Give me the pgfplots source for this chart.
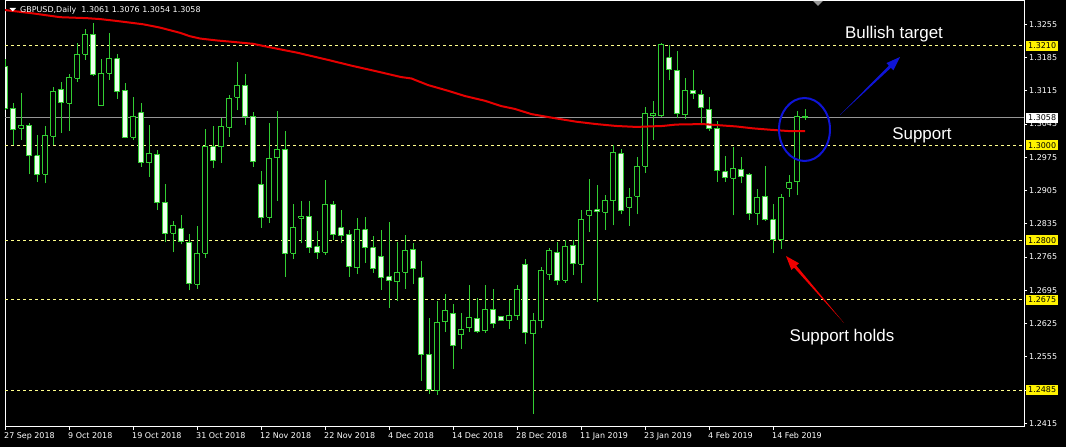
\documentclass[border=0pt]{standalone}
\usepackage{fontspec}
\usepackage{pgfplots}
\pgfplotsset{compat=1.18}
\usetikzlibrary{arrows.meta}
\newfontfamily\lab{DejaVu Sans}
\newfontfamily\ann{Liberation Sans}
\definecolor{cg}{RGB}{50,205,50}
\definecolor{bearfill}{RGB}{235,255,235}
\definecolor{lvl}{RGB}{255,255,140}
\definecolor{ma}{RGB}{230,0,0}
\definecolor{pl}{RGB}{150,150,150}
\definecolor{ab}{RGB}{15,20,215}
\definecolor{ar}{RGB}{240,0,0}
% candle: index, open, high, low, close
\newcommand{\cdl}[5]{%
 \ifdim #5pt<#2pt \def\cF{bearfill}\else\def\cF{black}\fi
 \pgfmathsetmacro\xa{#1-0.3}\pgfmathsetmacro\xb{#1+0.3}%
 \edef\cTmp{\noexpand\addplot[cg, line width=1bp, mark=none] coordinates {(#1,#4)(#1,#3)};
 \noexpand\addplot[draw=cg, fill=\cF, line width=1bp, mark=none, line join=miter] coordinates {(\xa,#2)(\xb,#2)(\xb,#5)(\xa,#5)(\xa,#2)};}%
 \cTmp}
\begin{document}
\begin{tikzpicture}
\fill[black] (0,0) rectangle (1066bp,447bp);
\useasboundingbox (0,0) rectangle (1066bp,447bp);
\begin{axis}[
  at={(5bp,20bp)}, anchor=south west,
  scale only axis, width=1019bp, height=426bp,
  xmin=0, xmax=127.375, ymin=1.24073, ymax=1.33041,
  axis background/.style={fill=black},
  axis line style={white, line width=1bp},
  xtick={0,8,16,24,32,40,48,56,64,72,80,88,96},
  xticklabels={27 Sep 2018,9 Oct 2018,19 Oct 2018,31 Oct 2018,12 Nov 2018,22 Nov 2018,4 Dec 2018,14 Dec 2018,28 Dec 2018,11 Jan 2019,23 Jan 2019,4 Feb 2019,14 Feb 2019},
  ytick={1.2415,1.2485,1.2555,1.2625,1.2695,1.2765,1.2835,1.2905,1.2975,1.3045,1.3115,1.3185,1.3255},
  yticklabels={1.2415,1.2485,1.2555,1.2625,1.2695,1.2765,1.2835,1.2905,1.2975,1.3045,1.3115,1.3185,1.3255},
  xtick pos=bottom, ytick pos=right, yticklabel pos=right,
  tick align=outside, major tick length=3bp,
  tick style={white, line width=1bp},
  tick label style={font=\lab\fontsize{8}{9}\selectfont, text=white, inner sep=0pt},
  xticklabel style={anchor=north west, xshift=-1bp, yshift=-2bp},
  yticklabel style={anchor=west, xshift=2bp},
]
% levels
\addplot[lvl, line width=1bp, dash pattern=on 3bp off 3bp] coordinates {(0,1.3210)(127.375,1.3210)};
\addplot[lvl, line width=1bp, dash pattern=on 3bp off 3bp] coordinates {(0,1.3000)(127.375,1.3000)};
\addplot[lvl, line width=1bp, dash pattern=on 3bp off 3bp] coordinates {(0,1.2800)(127.375,1.2800)};
\addplot[lvl, line width=1bp, dash pattern=on 3bp off 3bp] coordinates {(0,1.2675)(127.375,1.2675)};
\addplot[lvl, line width=1bp, dash pattern=on 3bp off 3bp] coordinates {(0,1.2485)(127.375,1.2485)};
\addplot[pl, line width=1bp] coordinates {(0,1.3058)(127.375,1.3058)};
% candles: index, open, high, low, close
\cdl{0}{1.3166}{1.3181}{1.3075}{1.3077}
\cdl{1}{1.3078}{1.3089}{1.3000}{1.3034}
\cdl{2}{1.3036}{1.3110}{1.3011}{1.3042}
\cdl{3}{1.3042}{1.3048}{1.2939}{1.2978}
\cdl{4}{1.2978}{1.3022}{1.2924}{1.2939}
\cdl{5}{1.2939}{1.3041}{1.2920}{1.3021}
\cdl{6}{1.3019}{1.3122}{1.3000}{1.3114}
\cdl{7}{1.3118}{1.3134}{1.3027}{1.3091}
\cdl{8}{1.3089}{1.3150}{1.3031}{1.3143}
\cdl{9}{1.3141}{1.3215}{1.3134}{1.3192}
\cdl{10}{1.3192}{1.3245}{1.3180}{1.3234}
\cdl{11}{1.3234}{1.3257}{1.3147}{1.3150}
\cdl{12}{1.3084}{1.3181}{1.3083}{1.3152}
\cdl{13}{1.3152}{1.3236}{1.3138}{1.3183}
\cdl{14}{1.3183}{1.3193}{1.3098}{1.3114}
\cdl{15}{1.3116}{1.3131}{1.3015}{1.3017}
\cdl{16}{1.3017}{1.3103}{1.3011}{1.3061}
\cdl{17}{1.3069}{1.3089}{1.2955}{1.2964}
\cdl{18}{1.2964}{1.3042}{1.2934}{1.2983}
\cdl{19}{1.2981}{1.2991}{1.2864}{1.2880}
\cdl{20}{1.2880}{1.2919}{1.2796}{1.2815}
\cdl{21}{1.2815}{1.2841}{1.2775}{1.2832}
\cdl{22}{1.2825}{1.2853}{1.2792}{1.2798}
\cdl{23}{1.2796}{1.2813}{1.2695}{1.2710}
\cdl{24}{1.2708}{1.2830}{1.2698}{1.2773}
\cdl{25}{1.2773}{1.3034}{1.2764}{1.2997}
\cdl{26}{1.2997}{1.3041}{1.2952}{1.2969}
\cdl{27}{1.2997}{1.3057}{1.2964}{1.3040}
\cdl{28}{1.3038}{1.3106}{1.3018}{1.3099}
\cdl{29}{1.3101}{1.3176}{1.3074}{1.3127}
\cdl{30}{1.3127}{1.3150}{1.3044}{1.3061}
\cdl{31}{1.3061}{1.3070}{1.2955}{1.2967}
\cdl{32}{1.2918}{1.2946}{1.2827}{1.2849}
\cdl{33}{1.2849}{1.3047}{1.2837}{1.2973}
\cdl{34}{1.2974}{1.3073}{1.2884}{1.2992}
\cdl{35}{1.2992}{1.3030}{1.2724}{1.2773}
\cdl{36}{1.2773}{1.2877}{1.2760}{1.2828}
\cdl{37}{1.2847}{1.2883}{1.2794}{1.2850}
\cdl{38}{1.2851}{1.2883}{1.2774}{1.2785}
\cdl{39}{1.2787}{1.2820}{1.2762}{1.2775}
\cdl{40}{1.2775}{1.2927}{1.2770}{1.2876}
\cdl{41}{1.2876}{1.2883}{1.2800}{1.2812}
\cdl{42}{1.2827}{1.2864}{1.2794}{1.2811}
\cdl{43}{1.2813}{1.2823}{1.2724}{1.2745}
\cdl{44}{1.2743}{1.2847}{1.2729}{1.2823}
\cdl{45}{1.2823}{1.2849}{1.2753}{1.2785}
\cdl{46}{1.2785}{1.2809}{1.2732}{1.2741}
\cdl{47}{1.2767}{1.2823}{1.2696}{1.2722}
\cdl{48}{1.2724}{1.2839}{1.2658}{1.2716}
\cdl{49}{1.2713}{1.2797}{1.2672}{1.2733}
\cdl{50}{1.2733}{1.2811}{1.2698}{1.2779}
\cdl{51}{1.2781}{1.2795}{1.2708}{1.2741}
\cdl{52}{1.2722}{1.2756}{1.2505}{1.2560}
\cdl{53}{1.2560}{1.2636}{1.2477}{1.2486}
\cdl{54}{1.2484}{1.2673}{1.2475}{1.2628}
\cdl{55}{1.2629}{1.2687}{1.2607}{1.2653}
\cdl{56}{1.2647}{1.2666}{1.2530}{1.2579}
\cdl{57}{1.2602}{1.2647}{1.2571}{1.2613}
\cdl{58}{1.2616}{1.2706}{1.2607}{1.2638}
\cdl{59}{1.2636}{1.2679}{1.2606}{1.2608}
\cdl{60}{1.2610}{1.2706}{1.2606}{1.2655}
\cdl{61}{1.2655}{1.2698}{1.2615}{1.2625}
\cdl{62}{1.2640}{1.2641}{1.2630}{1.2631}
\cdl{63}{1.2631}{1.2675}{1.2614}{1.2642}
\cdl{64}{1.2642}{1.2706}{1.2633}{1.2697}
\cdl{65}{1.2750}{1.2761}{1.2581}{1.2607}
\cdl{66}{1.2604}{1.2647}{1.2435}{1.2631}
\cdl{67}{1.2631}{1.2745}{1.2615}{1.2737}
\cdl{68}{1.2729}{1.2785}{1.2717}{1.2778}
\cdl{69}{1.2775}{1.2796}{1.2706}{1.2715}
\cdl{70}{1.2716}{1.2802}{1.2711}{1.2788}
\cdl{71}{1.2790}{1.2802}{1.2727}{1.2752}
\cdl{72}{1.2750}{1.2865}{1.2710}{1.2844}
\cdl{73}{1.2853}{1.2929}{1.2817}{1.2863}
\cdl{74}{1.2865}{1.2916}{1.2670}{1.2861}
\cdl{75}{1.2859}{1.2895}{1.2823}{1.2884}
\cdl{76}{1.2884}{1.3000}{1.2832}{1.2985}
\cdl{77}{1.2983}{1.2992}{1.2855}{1.2863}
\cdl{78}{1.2870}{1.2910}{1.2830}{1.2891}
\cdl{79}{1.2893}{1.2975}{1.2855}{1.2956}
\cdl{80}{1.2956}{1.3080}{1.2943}{1.3068}
\cdl{81}{1.3063}{1.3093}{1.3011}{1.3068}
\cdl{82}{1.3063}{1.3215}{1.3059}{1.3213}
\cdl{83}{1.3185}{1.3211}{1.3137}{1.3160}
\cdl{84}{1.3158}{1.3198}{1.3057}{1.3068}
\cdl{85}{1.3065}{1.3143}{1.3055}{1.3116}
\cdl{86}{1.3116}{1.3158}{1.3097}{1.3110}
\cdl{87}{1.3108}{1.3116}{1.3042}{1.3080}
\cdl{88}{1.3076}{1.3101}{1.3030}{1.3036}
\cdl{89}{1.3036}{1.3051}{1.2924}{1.2948}
\cdl{90}{1.2945}{1.2977}{1.2924}{1.2933}
\cdl{91}{1.2931}{1.2996}{1.2853}{1.2952}
\cdl{92}{1.2950}{1.2975}{1.2920}{1.2935}
\cdl{93}{1.2939}{1.2941}{1.2844}{1.2857}
\cdl{94}{1.2857}{1.2908}{1.2832}{1.2891}
\cdl{95}{1.2893}{1.2956}{1.2842}{1.2844}
\cdl{96}{1.2844}{1.2876}{1.2773}{1.2802}
\cdl{97}{1.2802}{1.2897}{1.2783}{1.2891}
\cdl{98}{1.2910}{1.2937}{1.2891}{1.2922}
\cdl{99}{1.2924}{1.3072}{1.2895}{1.3061}
\cdl{100}{1.3061}{1.3076}{1.3054}{1.3058}
% moving average
\addplot[ma, line width=2bp, mark=none] coordinates {
(0,1.3285)(3.5,1.3278)(6.9,1.3270)(10.2,1.3268)(11.9,1.3266)(14,1.3262)(17.3,1.3255)(19.4,1.3248)(21.9,1.3237)(23.1,1.3230)(24.4,1.3225)(26.5,1.3221)(28.5,1.3218)(31,1.3214)(32.7,1.3208)(34.5,1.3202)(36.6,1.3195)(40.4,1.3180)(43.3,1.3168)(46.2,1.3157)(49.5,1.3144)(50.8,1.3141)(52.9,1.3127)(55.4,1.3115)(57.5,1.3104)(60,1.3094)(62,1.3083)(63.7,1.3077)(65.8,1.3066)(68.5,1.3058)(71.4,1.3050)(73.9,1.3045)(76.4,1.3041)(78.9,1.3039)(82.2,1.3041)(83.9,1.3044)(87.2,1.3045)(88.9,1.3043)(91.4,1.3040)(93.5,1.3036)(95.7,1.3033)(98.2,1.3030)(100,1.3030)};
\end{axis}
\begin{scope}[x=1bp,y=-1bp,yshift=447bp]
% title
\fill[white] (9.5,8) -- (16,8) -- (12.75,11.5) -- cycle;
\node[anchor=west, inner sep=0pt, text=white, font=\lab\fontsize{8}{9}\selectfont] at (20,10) {GBPUSD,Daily\ \ 1.3061 1.3076 1.3054 1.3058};
\fill[pl] (813,1) -- (823,1) -- (818,6) -- cycle;
% price labels
\tikzset{plab/.style={anchor=west, text=black, inner xsep=2bp, inner ysep=0pt, minimum height=10bp, font=\lab\fontsize{8}{9}\selectfont}}
\node[plab, fill=yellow] at (1026,45.7) {1.3210};
\node[plab, fill=yellow] at (1026,145.4) {1.3000};
\node[plab, fill=yellow] at (1026,240.4) {1.2800};
\node[plab, fill=yellow] at (1026,299.8) {1.2675};
\node[plab, fill=yellow] at (1026,390.1) {1.2485};
\node[plab, fill=white] at (1026,117.9) {1.3058};
% annotations
\draw[ab, line width=2bp] (804.5,129.5) ellipse [x radius=25.5, y radius=31.5];
\fill[ab] (840,115) -- (890.9,67.8) -- (893.4,70.3) -- (900,57) -- (886.4,63.1) -- (888.9,65.6) -- cycle;
\fill[ar] (844,323) -- (796.3,265.6) -- (799.0,263.3) -- (786,256) -- (791.4,269.9) -- (794.1,267.6) -- cycle;
\node[text=white, font=\ann\fontsize{17}{20}\selectfont] at (894,34) {Bullish target};
\node[text=white, font=\ann\fontsize{17}{20}\selectfont] at (922,135) {Support};
\node[text=white, font=\ann\fontsize{17}{20}\selectfont] at (842,337) {Support holds};
\end{scope}
\end{tikzpicture}
\end{document}
